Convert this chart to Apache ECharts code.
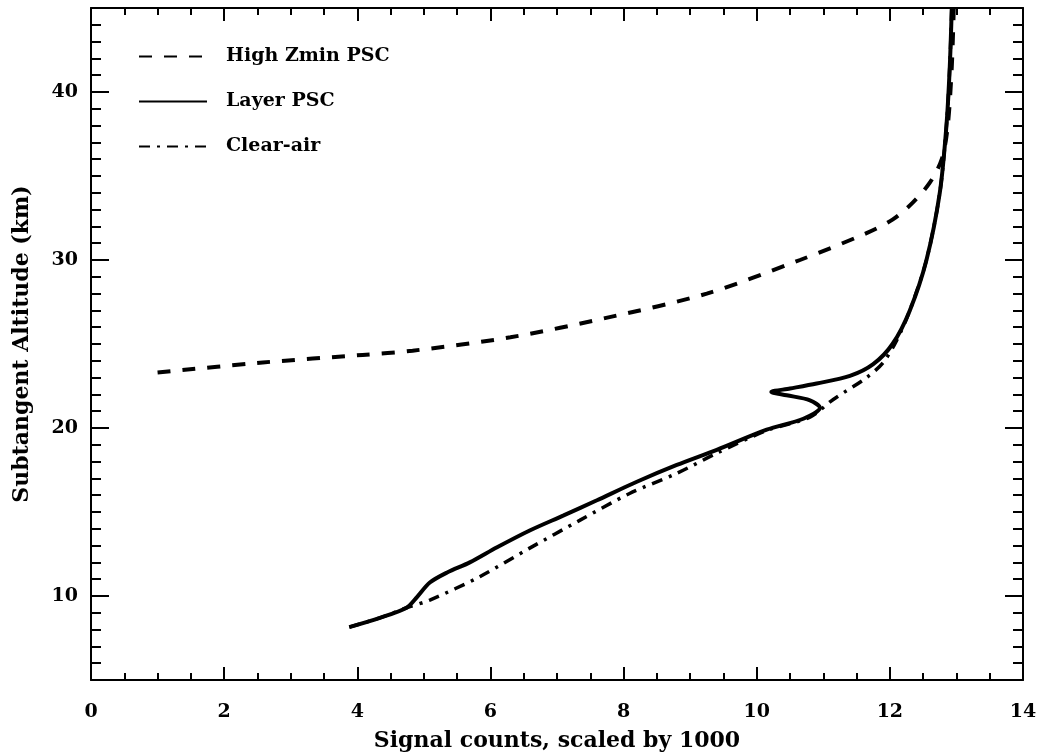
<!DOCTYPE html>
<html>
<head>
<meta charset="utf-8">
<script src="https://cdn.jsdelivr.net/npm/echarts@6/dist/echarts.min.js"></script>
<style>
html,body{margin:0;padding:0;background:#fff;}
#chart{width:1049px;height:752px;}
</style>
</head>
<body>
<div id="chart"></div>
<script>
// ---- data (x = signal counts / 1000, y = subtangent altitude km) ----
const highZminPSC = [
  [1.0, 23.3], [2.58, 23.9], [4.08, 24.35], [4.83, 24.6], [6.3, 25.4],
  [7.79, 26.6], [9.25, 28.0], [10.65, 30.0], [11.65, 31.6], [12.04, 32.4],
  [12.34, 33.4], [12.6, 34.6], [12.78, 36.0], [12.87, 38.0], [12.93, 41.5], [12.96, 45.0]
];
const layerPSC = [
  [3.88, 8.15], [4.34, 8.7], [4.74, 9.3], [4.9, 9.95], [5.09, 10.8], [5.35, 11.4],
  [5.69, 12.0], [6.1, 12.9], [6.59, 13.9], [7.1, 14.8], [7.6, 15.7], [8.2, 16.8],
  [8.8, 17.8], [9.4, 18.7], [10.15, 19.9], [10.7, 20.55], [10.95, 21.2], [10.8, 21.65],
  [10.45, 21.95], [10.22, 22.15], [10.5, 22.35], [10.9, 22.65], [11.4, 23.1],
  [11.75, 23.8], [12.04, 25.0], [12.3, 27.0], [12.55, 30.0], [12.75, 34.0],
  [12.85, 38.0], [12.9, 41.5], [12.93, 45.0]
];
const clearAir = [
  [3.88, 8.15], [4.34, 8.7], [4.74, 9.3], [5.09, 9.76], [5.84, 11.15], [6.59, 12.85],
  [7.34, 14.5], [8.09, 16.1], [8.8, 17.3], [9.4, 18.5], [10.15, 19.85], [10.8, 20.65],
  [11.15, 21.7], [11.65, 23.0], [11.9, 23.9], [12.1, 25.2], [12.3, 27.0], [12.55, 30.0],
  [12.75, 34.0], [12.85, 38.0], [12.9, 41.5], [12.93, 45.0]
];
const seriesNames = ['High Zmin PSC', 'Layer PSC', 'Clear-air'];
const yTickLabels = [10, 20, 30, 40];
const xRange = [0, 14];
const yRange = [5, 45];

const FONT = 'DejaVu Serif';
const black = '#000';

const chart = echarts.init(document.getElementById('chart'));
const gridBox = { left: 91, right: 26, top: 8, bottom: 72, containLabel: false, outerBoundsMode: 'none' };

function xAxisDef(pos, showLabels, gridIndex, hidden) {
  return {
    type: 'value', gridIndex: gridIndex, position: pos, min: xRange[0], max: xRange[1], interval: 2,
    show: !hidden,
    name: showLabels ? 'Signal counts, scaled by 1000' : '',
    nameLocation: 'middle', nameGap: 50,
    nameTextStyle: { fontFamily: FONT, fontWeight: 'bold', fontSize: 22, color: black },
    axisLine: { show: true, onZero: false, lineStyle: { color: black, width: 2 } },
    axisTick: { show: true, inside: true, length: 13, lineStyle: { color: black, width: 2 } },
    minorTick: { show: true, splitNumber: 4, length: 7, lineStyle: { color: black, width: 2 } },
    axisLabel: { show: showLabels, margin: 23, fontFamily: FONT, fontWeight: 'bold', fontSize: 19, color: black },
    splitLine: { show: false }, minorSplitLine: { show: false }
  };
}
function yMajor(pos, showLabels) {
  return {
    type: 'value', gridIndex: 0, position: pos, min: yRange[0], max: yRange[1],
    name: showLabels ? 'Subtangent Altitude (km)' : '',
    nameLocation: 'middle', nameGap: 58,
    nameTextStyle: { fontFamily: FONT, fontWeight: 'bold', fontSize: 22, color: black },
    axisLine: { show: true, onZero: false, lineStyle: { color: black, width: 2 } },
    axisTick: { show: true, inside: true, length: 18, customValues: yTickLabels, lineStyle: { color: black, width: 2 } },
    axisLabel: { show: showLabels, customValues: yTickLabels, margin: 13, fontFamily: FONT, fontWeight: 'bold', fontSize: 19, color: black },
    splitLine: { show: false }
  };
}
function yMinor(pos) {
  return {
    type: 'value', gridIndex: 1, position: pos, min: yRange[0], max: yRange[1], interval: 1,
    axisLine: { show: false, onZero: false },
    axisTick: { show: true, inside: true, length: 10, lineStyle: { color: black, width: 2 } },
    axisLabel: { show: false }, splitLine: { show: false }
  };
}

const option = {
  backgroundColor: '#fff',
  animation: false,
  grid: [Object.assign({}, gridBox), Object.assign({}, gridBox)],
  legend: {
    orient: 'vertical', left: 133, top: 42, itemWidth: 68, itemHeight: 14, itemGap: 26,
    data: seriesNames,
    itemStyle: { opacity: 0 },
    textStyle: { fontFamily: FONT, fontWeight: 'bold', fontSize: 19, color: black, padding: [0, 0, 0, 14] }
  },
  xAxis: [xAxisDef('bottom', true, 0, false), xAxisDef('top', false, 0, false), xAxisDef('bottom', false, 1, true)],
  yAxis: [yMajor('left', true), yMajor('right', false), yMinor('left'), yMinor('right')],
  series: [
    { name: seriesNames[0], type: 'line', data: highZminPSC, showSymbol: false, symbol: 'none', smooth: 0.3,
      lineStyle: { color: black, width: 4, type: [13, 12] }, itemStyle: { color: black } },
    { name: seriesNames[1], type: 'line', data: layerPSC, showSymbol: false, symbol: 'none', smooth: 0.3,
      lineStyle: { color: black, width: 4, type: 'solid' }, itemStyle: { color: black } },
    { name: seriesNames[2], type: 'line', data: clearAir, showSymbol: false, symbol: 'none', smooth: 0.3,
      lineStyle: { color: black, width: 3.5, type: [11, 7, 3, 7] }, itemStyle: { color: black } }
  ]
};
chart.setOption(option);
</script>
</body>
</html>
